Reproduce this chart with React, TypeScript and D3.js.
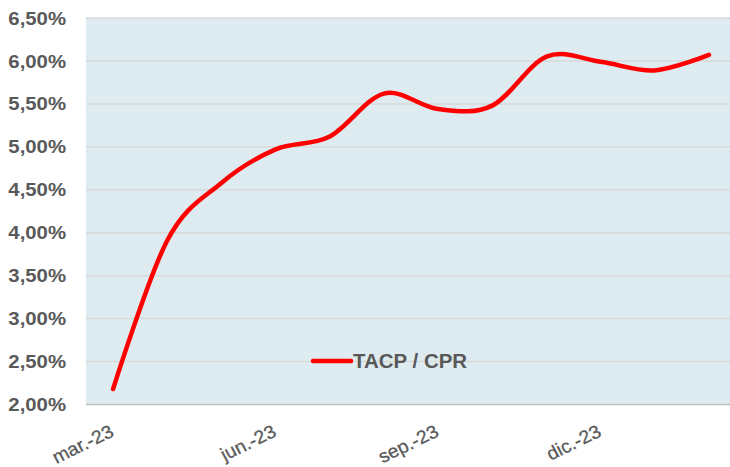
import React from "react";
import * as d3 from "d3";

const months = [
  "mar.-23", "abr.-23", "may.-23", "jun.-23", "jul.-23", "ago.-23",
  "sep.-23", "oct.-23", "nov.-23", "dic.-23", "ene.-24", "feb.-24",
];
const values = [2.18, 3.91, 4.58, 4.97, 5.12, 5.62, 5.44, 5.48, 6.05, 5.99, 5.89, 6.07];
const tickLabels = ["mar.-23", "jun.-23", "sep.-23", "dic.-23"];
const yTicks = [2, 2.5, 3, 3.5, 4, 4.5, 5, 5.5, 6, 6.5];
const seriesName = "TACP / CPR";

const W = 730;
const H = 467;
const left = 86;
const right = 736;
const top = 18;
const bottom = 404.5;

export default function App() {
  const x = d3.scaleBand<string>().domain(months).range([left, right]);
  const y = d3.scaleLinear().domain([2, 6.5]).range([bottom, top]);
  const cx = (m: string) => (x(m) as number) + x.bandwidth() / 2;
  const line = d3
    .line<number>()
    .x((_, i) => cx(months[i]))
    .y((d) => y(d))
    .curve(d3.curveCardinal.tension(0));
  const fmt = (v: number) => v.toFixed(2).replace(".", ",") + "%";
  const font = "'Liberation Sans', Arial, sans-serif";

  return (
    <svg
      width={W}
      height={H}
      style={{ position: "absolute", left: 0, top: 0, background: "#fff" }}
      fontFamily={font}
    >
      <rect x={left} y={top} width={right - left} height={bottom - top} fill="#deecf1" />
      {yTicks.map((t) => (
        <line
          key={"g" + t}
          x1={left}
          x2={right}
          y1={y(t)}
          y2={y(t)}
          stroke={t === 2 ? "#bfbfbf" : "#d9d9d9"}
          strokeWidth={1.5}
        />
      ))}
      {yTicks.map((t) => (
        <text
          key={"t" + t}
          transform={`translate(66,${y(t) + 6.6}) scale(1.1,1)`}
          textAnchor="end"
          fontSize={18.5}
          fontWeight="bold"
          fill="#595959"
        >
          {fmt(t)}
        </text>
      ))}
      {tickLabels.map((m) => (
        <text
          key={"x" + m}
          transform={`translate(${cx(m) + 2},435.5) scale(1.05,1) rotate(-27)`}
          textAnchor="end"
          fontSize={18.5}
          fontWeight={500}
          stroke="#595959"
          strokeWidth={0.3}
          fill="#595959"
        >
          {m}
        </text>
      ))}
      <path
        d={line(values) || ""}
        fill="none"
        stroke="#ff0000"
        strokeWidth={4.5}
        strokeLinecap="round"
        strokeLinejoin="round"
      />
      <line x1={313} x2={351} y1={361} y2={361} stroke="#ff0000" strokeWidth={4.5} strokeLinecap="round" />
      <text
        transform="translate(353,367.7) scale(1.05,1)"
        fontSize={19.5}
        fontWeight="bold"
        fill="#595959"
      >
        {seriesName}
      </text>
    </svg>
  );
}
